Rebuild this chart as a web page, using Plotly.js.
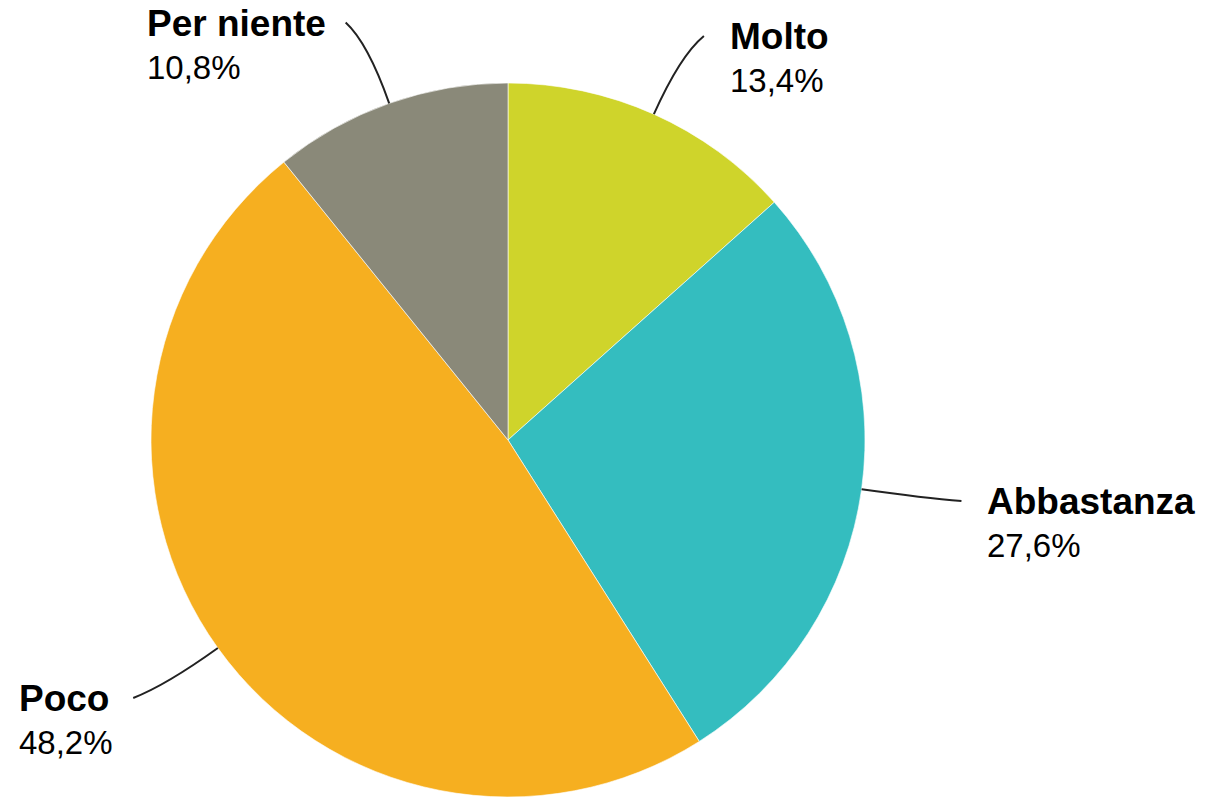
<!DOCTYPE html>
<html>
<head>
<meta charset="utf-8">
<script src="https://cdn.plot.ly/plotly-3.0.1.min.js"></script>
<style>html,body{margin:0;padding:0;background:#fff;}#chart{width:1207px;height:798px;}</style>
</head>
<body>
<div id="chart"></div>
<script>
// Data
const categories = ['Molto', 'Abbastanza', 'Poco', 'Per niente'];
const values = [13.4, 27.6, 48.2, 10.8];
const valueLabels = ['13,4%', '27,6%', '48,2%', '10,8%'];
const colors = ['#CFD42B', '#34BDBF', '#F6AF20', '#8A8979'];

// Layout geometry (pixels)
const W = 1207, H = 798;
const CX = 508, CY = 440, R = 357;
const dom = {
  x: [(CX - R) / W, (CX + R) / W],
  y: [1 - (CY + R) / H, 1 - (CY - R) / H]
};

const total = values.reduce((a, b) => a + b, 0);
const shapes = [];
const annotations = [];
let cum = 0;
values.forEach((v, i) => {
  const mid = (cum + v / 2) / total * 2 * Math.PI; // clockwise from top
  cum += v;
  const s = Math.sin(mid), c = Math.cos(mid);
  const side = s >= 0 ? 1 : -1;
  const p0 = [CX + R * s, CY - R * c];
  const ctl = [CX + 1.18 * R * s, CY - 1.18 * R * c];
  const p2 = [CX + 1.24 * R * s + side * 15, CY - 1.24 * R * c];
  const toPx = (p) => [p[0] / W, 1 - p[1] / H];
  const a = toPx(p0), b = toPx(ctl), d = toPx(p2);
  shapes.push({
    type: 'path', xref: 'paper', yref: 'paper',
    path: `M ${a[0]} ${a[1]} Q ${b[0]} ${b[1]} ${d[0]} ${d[1]}`,
    line: {color: '#222', width: 2}
  });
  const tx = p2[0] + side * (side > 0 ? 24 : 18);
  annotations.push({
    xref: 'paper', yref: 'paper',
    x: tx / W, y: 1 - p2[1] / H,
    xanchor: side > 0 ? 'left' : 'right',
    yanchor: 'top', yshift: 22, align: 'left',
    showarrow: false,
    text: `<span style="font-size:37px"><b>${categories[i]}</b></span><br>${valueLabels[i]}`,
    font: {family: 'Liberation Sans, Arial, sans-serif', size: 33, color: '#000'}
  });
});

const data = [{
  type: 'pie',
  labels: categories,
  values: values,
  sort: false,
  direction: 'clockwise',
  rotation: 0,
  textinfo: 'none',
  hoverinfo: 'label+percent',
  marker: {colors: colors, line: {color: 'rgba(255,255,255,0.6)', width: 1}},
  domain: dom,
  showlegend: false
}];

const layout = {
  width: W, height: H,
  margin: {l: 0, r: 0, t: 0, b: 0},
  paper_bgcolor: '#fff',
  showlegend: false,
  shapes: shapes,
  annotations: annotations
};

Plotly.newPlot('chart', data, layout, {displayModeBar: false, staticPlot: true});
</script>
</body>
</html>
